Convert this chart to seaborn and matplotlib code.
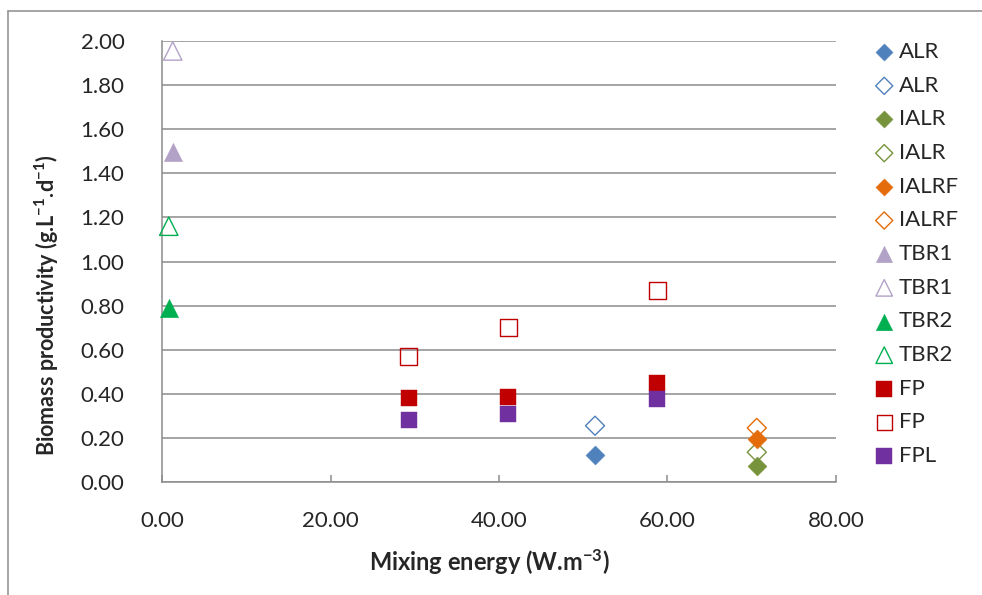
import matplotlib
matplotlib.use('Agg')
import matplotlib.pyplot as plt
import seaborn as sns
import pandas as pd
from matplotlib.lines import Line2D
from matplotlib.ticker import FormatStrFormatter

# ---- data ----
alr_x = [51.4];              alr_y = [0.120]
alr_open_x = [51.4];         alr_open_y = [0.255]
ialr_x = [70.6];             ialr_y = [0.073]
ialr_open_x = [70.6];        ialr_open_y = [0.135]
ialrf_x = [70.6];            ialrf_y = [0.193]
ialrf_open_x = [70.6];       ialrf_open_y = [0.245]
tbr1_x = [1.27];             tbr1_y = [1.495]
tbr1_open_x = [1.27];        tbr1_open_y = [1.955]
tbr2_x = [0.80];             tbr2_y = [0.790]
tbr2_open_x = [0.80];        tbr2_open_y = [1.160]
fp_x = [29.3, 41.1, 58.8];   fp_y = [0.380, 0.385, 0.450]
fp_open_x = [29.3, 41.1, 58.8]; fp_open_y = [0.570, 0.700, 0.870]
fpl_x = [29.3, 41.1, 58.8];  fpl_y = [0.280, 0.310, 0.375]

x_ticks = [0, 20, 40, 60, 80]
y_ticks = [0.0, 0.2, 0.4, 0.6, 0.8, 1.0, 1.2, 1.4, 1.6, 1.8, 2.0]

# label, x, y, color, marker, filled
series = [
    ("ALR",   alr_x,        alr_y,        "#4F81BD", "D", True),
    ("ALR",   alr_open_x,   alr_open_y,   "#4F81BD", "D", False),
    ("IALR",  ialr_x,       ialr_y,       "#77933C", "D", True),
    ("IALR",  ialr_open_x,  ialr_open_y,  "#77933C", "D", False),
    ("IALRF", ialrf_x,      ialrf_y,      "#E46C0A", "D", True),
    ("IALRF", ialrf_open_x, ialrf_open_y, "#E46C0A", "D", False),
    ("TBR1",  tbr1_x,       tbr1_y,       "#B3A2C7", "^", True),
    ("TBR1",  tbr1_open_x,  tbr1_open_y,  "#B3A2C7", "^", False),
    ("TBR2",  tbr2_x,       tbr2_y,       "#00B050", "^", True),
    ("TBR2",  tbr2_open_x,  tbr2_open_y,  "#00B050", "^", False),
    ("FP",    fp_x,         fp_y,         "#C00000", "s", True),
    ("FP",    fp_open_x,    fp_open_y,    "#C00000", "s", False),
    ("FPL",   fpl_x,        fpl_y,        "#7030A0", "s", True),
]

sizes = {"D": 94, "s": 149, "^": 175}

sns.set_theme(style="white")
plt.rcParams['font.family'] = ['Lato', 'DejaVu Sans']
plt.rcParams['mathtext.fontset'] = 'custom'
plt.rcParams['mathtext.rm'] = 'Lato'
plt.rcParams['mathtext.bf'] = 'Lato:bold'
plt.rcParams['mathtext.it'] = 'Lato:italic'
plt.rcParams['mathtext.default'] = 'bf'

fig = plt.figure(figsize=(9.82, 5.95), dpi=100)
fig.patch.set_facecolor('white')
ax = fig.add_axes([0.165, 0.19, 0.6863, 0.741])

grey = "#8C8C8C"

for label, xs, ys, col, mk, filled in series:
    df = pd.DataFrame({"x": xs, "y": ys})
    if filled:
        sns.scatterplot(data=df, x="x", y="y", ax=ax, marker=mk, s=sizes[mk],
                        color=col, edgecolor=col, linewidth=0.3, label=label,
                        zorder=4, clip_on=False)
    else:
        sns.scatterplot(data=df, x="x", y="y", ax=ax, marker=mk, s=sizes[mk],
                        facecolor="none", edgecolor=col, linewidth=1.0,
                        label=label, zorder=3, clip_on=False)

ax.set_xlim(0, 80)
ax.set_ylim(0, 2.0)
ax.set_xticks(x_ticks)
ax.set_yticks(y_ticks)
ax.xaxis.set_major_formatter(FormatStrFormatter('%.2f'))
ax.yaxis.set_major_formatter(FormatStrFormatter('%.2f'))

ax.grid(axis='y', color=grey, linewidth=1.1)
ax.grid(axis='x', visible=False)
ax.set_axisbelow(True)
for s in ['top', 'right']:
    ax.spines[s].set_visible(False)
for s in ['left', 'bottom']:
    ax.spines[s].set_color(grey)
    ax.spines[s].set_linewidth(1.1)

ax.tick_params(axis='x', direction='in', length=5, width=1.1, color=grey,
               labelsize=16, pad=21, bottom=True)
ax.tick_params(axis='y', length=0, labelsize=16, pad=27, left=False)

ax.set_xlabel("Mixing energy (W.m$^{-3}$)", fontsize=17, fontweight='bold')
ax.set_ylabel("Biomass productivity (g.L$^{-1}$.d$^{-1}$)", fontsize=15.5,
              fontweight='bold')
ax.xaxis.set_label_coords(0.486, -0.181)
ax.xaxis.label.set_va('center')
ax.yaxis.label.set(rotation_mode='default', ha='center', va='center')
ax.yaxis.set_label_coords(-0.1706, 0.40)

leg = ax.legend(loc='upper left', bbox_to_anchor=(872 / 982, 1 - 42 / 595),
                bbox_transform=fig.transFigure, frameon=False, fontsize=16,
                handletextpad=0.1, handlelength=1.1, labelspacing=0.615,
                borderaxespad=0, borderpad=0, markerscale=0.9)

# outer chart border (top and left edges visible)
fig.add_artist(Line2D([8 / 982, 1.0], [1 - 10.5 / 595, 1 - 10.5 / 595],
                      transform=fig.transFigure, color=grey, linewidth=1.1))
fig.add_artist(Line2D([8 / 982, 8 / 982], [0, 1 - 10.5 / 595],
                      transform=fig.transFigure, color=grey, linewidth=1.1))

fig.savefig("out.png", dpi=100)
